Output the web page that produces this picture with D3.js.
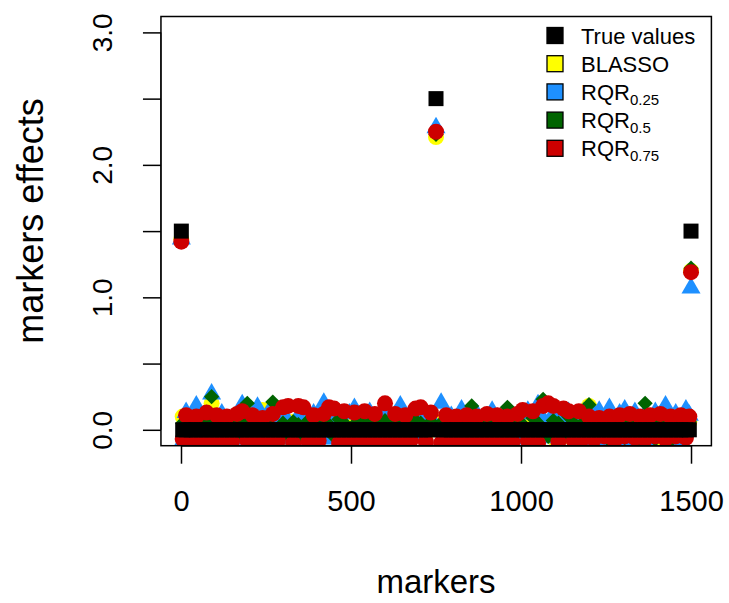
<!DOCTYPE html>
<html>
  <head>
    <meta charset="utf-8">
    <style>
      body { margin: 0; background: #fff; }
      svg { display: block; font-family: "Liberation Sans", Arial, sans-serif; }
    </style>
  </head>
  <body>
    <svg width="729" height="603"></svg>
    <script src="https://d3js.org/d3.v7.min.js"></script>
    <script>
      var markerIds = [1, 5].concat(d3.range(15, 1500, 15), [1495, 1500]);

      var trueValues = [
        1.5, 0, 0, 0, 0, 0, 0, 0, 0, 0, 0, 0, 0, 0, 0, 0, 0, 0, 0, 0,
        0, 0, 0, 0, 0, 0, 0, 0, 0, 0, 0, 0, 0, 0, 0, 0, 0, 0, 0, 0,
        0, 0, 0, 0, 0, 0, 0, 0, 0, 0, 0, 2.5, 0, 0, 0, 0, 0, 0, 0, 0,
        0, 0, 0, 0, 0, 0, 0, 0, 0, 0, 0, 0, 0, 0, 0, 0, 0, 0, 0, 0,
        0, 0, 0, 0, 0, 0, 0, 0, 0, 0, 0, 0, 0, 0, 0, 0, 0, 0, 0, 0,
        0, 0, 1.5
      ];

      var blasso = [
        1.44, 0.1, -0.05, 0.06, 0.04, -0.06, 0.07, 0.2, -0.05, 0.05,
        0.04, -0.06, 0.06, 0.05, -0.05, 0.06, 0.07, 0.15, -0.05, 0.05,
        -0.09, 0.05, -0.04, 0.06, 0.04, -0.05, 0.06, 0.05, -0.06, 0.04,
        0.05, -0.05, 0.06, 0.04, -0.06, 0.05, 0.06, -0.04, 0.05, 0.06,
        -0.05, 0.04, 0.06, -0.05, 0.05, 0.04, -0.06, 0.06, 0.05, -0.04,
        0.05, 2.21, 0.06, -0.05, 0.04, 0.06, -0.05, 0.05, 0.06, -0.04,
        0.05, 0.04, -0.06, 0.06, 0.05, -0.05, 0.04, 0.06, -0.05, 0.05,
        0.06, -0.04, 0.05, 0.04, -0.06, 0.06, 0.05, -0.05, 0.06, 0.04,
        -0.1, 0.18, 0.05, -0.06, 0.06, 0.04, -0.05, 0.07, 0.05, -0.06,
        0.06, 0.04, -0.05, 0.06, 0.05, -0.06, 0.07, 0.05, 0.06, -0.1,
        0.05, 0.06, 1.2
      ];

      var rqr25 = [
        1.44, -0.09, 0.13, 0.07, 0.18, -0.04, 0.11, 0.27, -0.06, 0.12,
        0.06, -0.07, 0.1, 0.19, -0.05, 0.08, 0.17, -0.06, 0.12, 0.07,
        -0.07, 0.11, 0.06, -0.05, 0.1, 0.14, -0.06, 0.12, 0.07, 0.2,
        -0.07, 0.1, 0.08, -0.05, 0.12, 0.16, -0.06, 0.09, 0.13, -0.05,
        0.08, 0.12, -0.07, 0.11, 0.18, -0.06, 0.1, 0.07, -0.05, 0.12,
        0.09, 2.28, 0.2, -0.06, 0.1, 0.07, 0.15, -0.07, -0.1, 0.12,
        0.08, -0.05, 0.14, 0.09, -0.06, 0.11, 0.07, -0.07, 0.12, 0.14,
        -0.05, 0.19, 0.08, -0.06, 0.12, 0.1, -0.05, 0.13, 0.09, -0.1,
        0.13, -0.09, 0.12, 0.14, -0.1, 0.16, -0.08, 0.12, 0.15, -0.09,
        0.13, -0.07, 0.12, -0.1, 0.13, 0.11, 0.18, -0.09, 0.12, -0.08,
        0.15, 0.11, 1.07
      ];

      var rqr50 = [
        1.44, 0.05, -0.04, 0.06, -0.05, -0.09, 0.07, 0.25, 0.04, -0.06,
        0.05, 0.08, -0.05, 0.06, 0.2, -0.04, 0.05, -0.06, 0.07, 0.21,
        -0.09, 0.05, -0.04, 0.06, 0.04, -0.06, 0.07, 0.05, -0.05, 0.06,
        0.04, -0.05, 0.08, 0.05, -0.06, 0.04, 0.07, -0.05, 0.05, 0.06,
        -0.04, 0.07, 0.05, -0.06, 0.04, 0.06, -0.05, 0.07, 0.05, -0.04,
        0.06, 2.23, 0.05, -0.05, 0.07, 0.04, -0.06, 0.05, 0.18, -0.05,
        0.06, 0.04, -0.06, 0.07, 0.05, 0.17, -0.05, 0.06, 0.04, -0.06,
        0.09, 0.05, 0.23, -0.05, 0.07, 0.05, -0.06, 0.1, 0.05, -0.07,
        0.06, 0.19, -0.09, 0.06, 0.05, -0.08, 0.07, 0.09, -0.06, 0.05,
        0.08, -0.1, 0.2, 0.05, -0.07, 0.06, 0.1, -0.08, 0.07, 0.05,
        -0.07, 0.06, 1.22
      ];

      var rqr75 = [
        1.42, -0.07, 0.11, -0.09, 0.1, -0.1, 0.13, -0.08, 0.11, -0.11,
        0.1, -0.09, 0.12, 0.14, -0.08, 0.11, -0.1, 0.09, -0.09, 0.12,
        -0.08, 0.17, 0.18, -0.1, 0.18, 0.17, -0.09, 0.11, -0.08, 0.12,
        0.17, 0.16, -0.1, 0.14, -0.08, 0.13, -0.09, 0.14, -0.11, 0.12,
        -0.08, 0.2, -0.09, 0.12, -0.1, 0.11, -0.08, 0.16, 0.17, -0.09,
        0.13, 2.25, -0.1, 0.11, -0.08, 0.1, -0.09, 0.11, -0.1, 0.1,
        -0.09, 0.12, -0.08, 0.11, -0.1, 0.1, -0.09, 0.12, 0.15, -0.08,
        0.14, -0.1, 0.18, 0.2, 0.18, -0.09, 0.16, 0.14, -0.08, 0.14,
        -0.06, 0.1, -0.07, 0.09, -0.05, 0.1, -0.08, 0.11, -0.05, 0.12,
        -0.06, 0.1, -0.07, 0.11, -0.05, 0.12, -0.07, 0.1, -0.05, 0.11,
        -0.06, 0.1, 1.19
      ];

      var seriesNames = ["True values", "BLASSO", "RQR", "RQR", "RQR"];
      var seriesSubs = ["", "", "0.25", "0.5", "0.75"];
      var xTicks = [0, 500, 1000, 1500];
      var yTicks = [0, 0.5, 1, 1.5, 2, 2.5, 3];

      var svg = d3.select("svg");

      // R style extended ranges (4% each side)
      var x = d3.scaleLinear().domain([-58.96, 1559.96]).range([160.95, 711.4]);
      var y = d3.scaleLinear().domain([-0.12, 3.12]).range([445.7, 16.5]);

      svg.append("clipPath").attr("id", "plotclip")
        .append("rect")
          .attr("x", x.range()[0]).attr("y", y.range()[1])
          .attr("width", x.range()[1] - x.range()[0])
          .attr("height", y.range()[0] - y.range()[1]);

      var pts = svg.append("g").attr("clip-path", "url(#plotclip)");

      function rows(values) {
        return values.map(function(v, i) { return {m: markerIds[i], v: v}; });
      }

      var tri = "M0,-11L9.53,5.5L-9.53,5.5Z";
      var dia = "M0,-7.6L7.6,0L0,7.6L-7.6,0Z";

      pts.append("g").selectAll("circle")
        .data(rows(blasso))
        .enter().append("circle")
          .attr("cx", function(d) { return x(d.m); })
          .attr("cy", function(d) { return y(d.v); })
          .attr("r", 8)
          .attr("fill", "#FFFF00");

      pts.append("g").selectAll("path")
        .data(rows(rqr25))
        .enter().append("path")
          .attr("d", tri)
          .attr("transform", function(d) { return "translate(" + x(d.m) + "," + y(d.v) + ")"; })
          .attr("fill", "#1E90FF");

      pts.append("g").selectAll("path")
        .data(rows(rqr50))
        .enter().append("path")
          .attr("d", dia)
          .attr("transform", function(d) { return "translate(" + x(d.m) + "," + y(d.v) + ")"; })
          .attr("fill", "#006400");

      pts.append("g").selectAll("circle")
        .data(rows(rqr75))
        .enter().append("circle")
          .attr("cx", function(d) { return x(d.m); })
          .attr("cy", function(d) { return y(d.v); })
          .attr("r", 8)
          .attr("fill", "#CD0000");

      pts.append("g").selectAll("rect")
        .data(rows(trueValues))
        .enter().append("rect")
          .attr("x", function(d) { return x(d.m) - 7.5; })
          .attr("y", function(d) { return y(d.v) - 7.5; })
          .attr("width", 15)
          .attr("height", 15)
          .attr("fill", "#000");

      // box
      svg.append("rect")
        .attr("x", x.range()[0]).attr("y", y.range()[1])
        .attr("width", x.range()[1] - x.range()[0])
        .attr("height", y.range()[0] - y.range()[1])
        .attr("fill", "none").attr("stroke", "#000").attr("stroke-width", 1.5);

      // axes
      var xAxis = svg.append("g")
        .attr("transform", "translate(0," + y.range()[0] + ")")
        .call(d3.axisBottom(x).tickValues(xTicks).tickSize(18).tickPadding(27).tickFormat(d3.format("d")));
      xAxis.select(".domain").attr("d", "M" + x(0) + ",0.5H" + x(1500));
      xAxis.selectAll(".tick line").attr("stroke-width", 1.5);
      xAxis.selectAll("text")
        .attr("font-size", 29).attr("font-family", "Liberation Sans, Arial, sans-serif").attr("fill", "#000");

      var yAxis = svg.append("g")
        .attr("transform", "translate(" + x.range()[0] + ",0)")
        .call(d3.axisLeft(y).tickValues(yTicks).tickSize(18).tickFormat(""));
      yAxis.select(".domain").attr("d", "M0," + y(0) + "V" + y(3));
      yAxis.selectAll(".tick line").attr("stroke-width", 1.5);
      yAxis.selectAll(".tick")
        .filter(function(d) { return d % 1 === 0; })
        .append("text")
          .attr("transform", "translate(-49,0) rotate(-90)")
          .attr("text-anchor", "middle")
          .attr("font-size", 28)
          .attr("font-family", "Liberation Sans, Arial, sans-serif")
          .attr("fill", "#000")
          .text(d3.format(".1f"));

      svg.append("text")
        .attr("x", 436).attr("y", 593)
        .attr("text-anchor", "middle")
        .attr("font-size", 33)
        .text("markers");

      svg.append("text")
        .attr("transform", "translate(43,221) rotate(-90)")
        .attr("text-anchor", "middle")
        .attr("font-size", 36)
        .text("markers effects");

      // legend
      var legendFill = ["#000", "#FFFF00", "#1E90FF", "#006400", "#CD0000"];
      var legend = svg.append("g");
      var item = legend.selectAll("g")
        .data(seriesNames)
        .enter().append("g")
          .attr("transform", function(d, i) { return "translate(555," + (35.5 + i * 28.2) + ")"; });
      item.append("rect")
        .attr("x", -8).attr("y", -8).attr("width", 16).attr("height", 16)
        .attr("fill", function(d, i) { return legendFill[i]; })
        .attr("stroke", "#000").attr("stroke-width", 1.3);
      var label = item.append("text")
        .attr("x", 26).attr("y", 8)
        .attr("font-size", 22);
      label.append("tspan").text(function(d) { return d; });
      label.append("tspan")
        .attr("dy", 5).attr("font-size", 15)
        .text(function(d, i) { return seriesSubs[i]; });
    </script>
  </body>
</html>
